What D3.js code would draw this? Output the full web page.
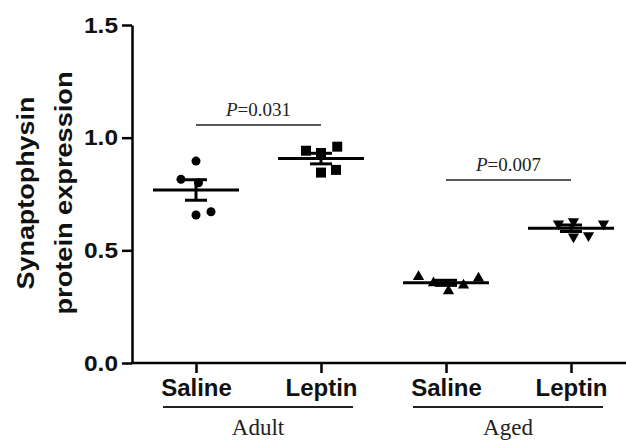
<!DOCTYPE html>
<html>
<head>
<meta charset="utf-8">
<script src="https://cdn.jsdelivr.net/npm/d3@7/dist/d3.min.js"></script>
<style>
  html, body { margin: 0; padding: 0; background: #fff; }
  svg { display: block; }
</style>
</head>
<body>
<div id="chart"></div>
<script>
// data
var groupIds = ["adultSaline", "adultLeptin", "agedSaline", "agedLeptin"];
var groupLabels = ["Saline", "Leptin", "Saline", "Leptin"];
var ageGroups = ["Adult", "Aged"];
var adultSaline = [0.896, 0.815, 0.800, 0.657, 0.671];
var adultLeptin = [0.942, 0.932, 0.960, 0.845, 0.857];
var agedSaline = [0.383, 0.376, 0.355, 0.320, 0.345];
var agedLeptin = [0.618, 0.628, 0.618, 0.560, 0.566];
var yTicks = [0.0, 0.5, 1.0, 1.5];
var pValues = ["0.031", "0.007"];
var pLevels = [1.056, 0.812];

var width = 626, height = 443;
var margin = { top: 25, left: 132, bottom: 80 };
var plotH = height - margin.top - margin.bottom;

// horizontal scatter of points (in units of category step), like the prism column scatter
var spread = {
  adultSaline: [0, -0.12, 0.02, 0, 0.12],
  adultLeptin: [-0.12, 0, 0.13, 0, 0.12],
  agedSaline: [-0.22, 0.26, -0.1, 0.02, 0.14],
  agedLeptin: [-0.1, 0.02, 0.26, 0.02, 0.14]
};
var series = {
  adultSaline: { values: adultSaline, shape: d3.symbolCircle, size: 64, rot: 0 },
  adultLeptin: { values: adultLeptin, shape: d3.symbolSquare, size: 100, rot: 0 },
  agedSaline: { values: agedSaline, shape: d3.symbolTriangle, size: 55, rot: 0 },
  agedLeptin: { values: agedLeptin, shape: d3.symbolTriangle, size: 55, rot: 180 }
};

var svg = d3.select("#chart").append("svg")
  .attr("width", width)
  .attr("height", height);

var x = d3.scalePoint().domain(groupIds).range([196, 571]);
var step = x.step();
var y = d3.scaleLinear().domain([0, 1.5]).range([margin.top + plotH, margin.top]);

var sans = "'Liberation Sans', Arial, sans-serif";
var serif = "'Liberation Serif', 'Times New Roman', serif";

// y axis
var yAxis = svg.append("g")
  .attr("transform", "translate(" + margin.left + ",0)")
  .call(d3.axisLeft(y).tickValues(yTicks).tickFormat(d3.format(".1f")).tickSize(10).tickSizeOuter(0).tickPadding(4));
yAxis.select(".domain").attr("stroke-width", 2.5);
yAxis.selectAll(".tick line").attr("stroke-width", 2.5);
yAxis.selectAll(".tick text")
  .attr("font-family", sans).attr("font-weight", "bold").attr("font-size", "22px").attr("fill", "#111")
  .attr("textLength", 34).attr("lengthAdjust", "spacingAndGlyphs");

// x axis
var xAxis = svg.append("g")
  .attr("transform", "translate(0," + y(0) + ")")
  .call(d3.axisBottom(x).tickSize(10).tickSizeOuter(0).tickFormat(function (d, i) { return groupLabels[i]; }).tickPadding(6));
xAxis.select(".domain").attr("d", "M" + margin.left + ",0H" + width).attr("stroke-width", 2.5);
xAxis.selectAll(".tick line").attr("stroke-width", 2.5);
xAxis.selectAll(".tick text")
  .attr("font-family", sans).attr("font-weight", "bold").attr("font-size", "24px").attr("fill", "#111");

// y title, two lines
var titleLines = [["Synaptophysin", 34, 193], ["protein expression", 72, 243]];
titleLines.forEach(function (t) {
  svg.append("text")
    .attr("transform", "translate(" + t[1] + "," + 193 + ") rotate(-90)")
    .attr("text-anchor", "middle")
    .attr("font-family", sans).attr("font-weight", "bold").attr("font-size", "23px").attr("fill", "#111")
    .attr("textLength", t[2]).attr("lengthAdjust", "spacingAndGlyphs")
    .text(t[0]);
});

// age groups: underline + label
ageGroups.forEach(function (name, i) {
  var a = x(groupIds[i * 2]) - 33, b = x(groupIds[i * 2 + 1]) + 32;
  svg.append("line")
    .attr("x1", a).attr("x2", b).attr("y1", 407).attr("y2", 407)
    .attr("stroke", "#222").attr("stroke-width", 2);
  svg.append("text")
    .attr("x", (a + b) / 2).attr("y", 435)
    .attr("text-anchor", "middle")
    .attr("font-family", serif).attr("font-size", "23px").attr("fill", "#222")
    .text(name);
});

// points, mean and SEM
groupIds.forEach(function (id) {
  var s = series[id];
  var vals = s.values;
  var cx = x(id);
  var mean = d3.mean(vals);
  var sem = d3.deviation(vals) / Math.sqrt(vals.length);
  var g = svg.append("g");
  var sym = d3.symbol().type(s.shape).size(s.size);
  g.selectAll("path.pt").data(vals).enter().append("path")
    .attr("class", "pt")
    .attr("d", sym)
    .attr("transform", function (d, i) {
      return "translate(" + (cx + spread[id][i] * step) + "," + y(d) + ") rotate(" + s.rot + ")";
    })
    .attr("fill", "#000");
  g.append("line")
    .attr("x1", cx - 43).attr("x2", cx + 43).attr("y1", y(mean)).attr("y2", y(mean))
    .attr("stroke", "#000").attr("stroke-width", 3);
  g.append("line")
    .attr("x1", cx).attr("x2", cx).attr("y1", y(mean - sem)).attr("y2", y(mean + sem))
    .attr("stroke", "#000").attr("stroke-width", 3);
  [mean - sem, mean + sem].forEach(function (v) {
    g.append("line")
      .attr("x1", cx - 11).attr("x2", cx + 11).attr("y1", y(v)).attr("y2", y(v))
      .attr("stroke", "#000").attr("stroke-width", 3);
  });
});

// significance
pValues.forEach(function (p, i) {
  var a = x(groupIds[i * 2]), b = x(groupIds[i * 2 + 1]);
  svg.append("line")
    .attr("x1", a).attr("x2", b).attr("y1", y(pLevels[i])).attr("y2", y(pLevels[i]))
    .attr("stroke", "#222").attr("stroke-width", 1.5);
  var t = svg.append("text")
    .attr("x", (a + b) / 2).attr("y", y(pLevels[i]) - 9)
    .attr("text-anchor", "middle")
    .attr("font-family", serif).attr("font-size", "19px").attr("fill", "#222");
  t.append("tspan").attr("font-style", "italic").text("P");
  t.append("tspan").text("=" + p);
});
</script>
</body>
</html>
